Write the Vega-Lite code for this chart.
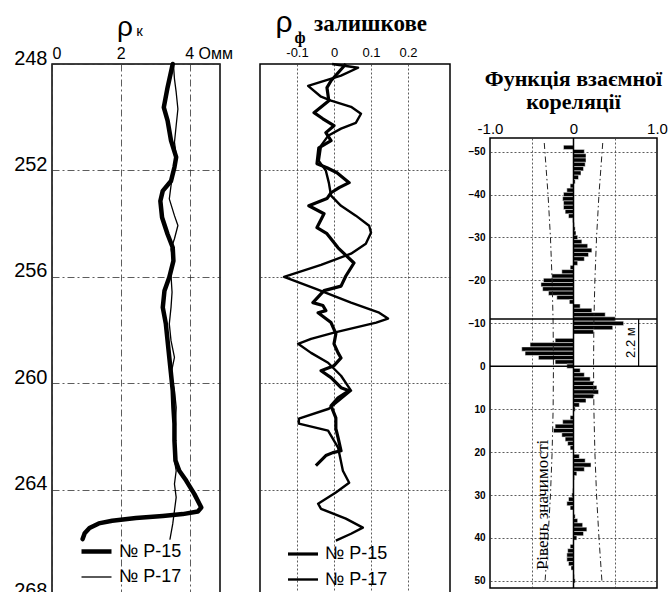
{
"$schema": "https://vega.github.io/schema/vega-lite/v6.json",
"background": "white",
"padding": {"left": 12, "top": 7, "right": 0, "bottom": 0},
"datasets": {
"rk": [
{"well":"№ Р-15","depth":248.0,"rho":3.51},{"well":"№ Р-15","depth":248.88,"rho":3.36},{"well":"№ Р-15","depth":249.63,"rho":3.25},{"well":"№ Р-15","depth":250.13,"rho":3.36},{"well":"№ Р-15","depth":250.88,"rho":3.46},{"well":"№ Р-15","depth":251.5,"rho":3.61},{"well":"№ Р-15","depth":251.88,"rho":3.56},{"well":"№ Р-15","depth":252.4,"rho":3.46},{"well":"№ Р-15","depth":252.77,"rho":3.22},{"well":"№ Р-15","depth":253.15,"rho":3.15},{"well":"№ Р-15","depth":253.77,"rho":3.2},{"well":"№ Р-15","depth":254.4,"rho":3.36},{"well":"№ Р-15","depth":254.9,"rho":3.51},{"well":"№ Р-15","depth":255.4,"rho":3.53},{"well":"№ Р-15","depth":256.02,"rho":3.41},{"well":"№ Р-15","depth":256.52,"rho":3.27},{"well":"№ Р-15","depth":257.15,"rho":3.22},{"well":"№ Р-15","depth":257.77,"rho":3.31},{"well":"№ Р-15","depth":258.4,"rho":3.36},{"well":"№ Р-15","depth":259.03,"rho":3.41},{"well":"№ Р-15","depth":259.65,"rho":3.46},{"well":"№ Р-15","depth":260.28,"rho":3.51},{"well":"№ Р-15","depth":260.91,"rho":3.53},{"well":"№ Р-15","depth":261.53,"rho":3.56},{"well":"№ Р-15","depth":262.16,"rho":3.56},{"well":"№ Р-15","depth":262.91,"rho":3.59},{"well":"№ Р-15","depth":263.29,"rho":3.7},{"well":"№ Р-15","depth":263.66,"rho":3.9},{"well":"№ Р-15","depth":264.17,"rho":4.14},{"well":"№ Р-15","depth":264.67,"rho":4.34},{"well":"№ Р-15","depth":264.82,"rho":4.24},{"well":"№ Р-15","depth":264.92,"rho":3.8},{"well":"№ Р-15","depth":264.99,"rho":3.22},{"well":"№ Р-15","depth":265.07,"rho":2.44},{"well":"№ Р-15","depth":265.17,"rho":1.75},{"well":"№ Р-15","depth":265.27,"rho":1.36},{"well":"№ Р-15","depth":265.44,"rho":1.09},{"well":"№ Р-15","depth":265.64,"rho":0.95},{"well":"№ Р-15","depth":265.86,"rho":0.89},
{"well":"№ Р-17","depth":248.0,"rho":3.53},{"well":"№ Р-17","depth":248.56,"rho":3.56},{"well":"№ Р-17","depth":249.06,"rho":3.61},{"well":"№ Р-17","depth":249.69,"rho":3.66},{"well":"№ Р-17","depth":250.31,"rho":3.61},{"well":"№ Р-17","depth":250.94,"rho":3.56},{"well":"№ Р-17","depth":251.44,"rho":3.61},{"well":"№ Р-17","depth":252.07,"rho":3.53},{"well":"№ Р-17","depth":252.57,"rho":3.46},{"well":"№ Р-17","depth":253.07,"rho":3.41},{"well":"№ Р-17","depth":253.7,"rho":3.56},{"well":"№ Р-17","depth":254.07,"rho":3.66},{"well":"№ Р-17","depth":254.57,"rho":3.56},{"well":"№ Р-17","depth":254.95,"rho":3.46},{"well":"№ Р-17","depth":255.33,"rho":3.51},{"well":"№ Р-17","depth":255.95,"rho":3.46},{"well":"№ Р-17","depth":256.58,"rho":3.49},{"well":"№ Р-17","depth":257.15,"rho":3.46},{"well":"№ Р-17","depth":257.77,"rho":3.41},{"well":"№ Р-17","depth":258.4,"rho":3.46},{"well":"№ Р-17","depth":259.03,"rho":3.56},{"well":"№ Р-17","depth":259.65,"rho":3.46},{"well":"№ Р-17","depth":260.28,"rho":3.56},{"well":"№ Р-17","depth":260.91,"rho":3.61},{"well":"№ Р-17","depth":261.53,"rho":3.59},{"well":"№ Р-17","depth":262.16,"rho":3.56},{"well":"№ Р-17","depth":262.91,"rho":3.56},{"well":"№ Р-17","depth":263.29,"rho":3.61},{"well":"№ Р-17","depth":263.79,"rho":3.56},{"well":"№ Р-17","depth":264.29,"rho":3.61},{"well":"№ Р-17","depth":264.79,"rho":3.56},{"well":"№ Р-17","depth":265.29,"rho":3.51},{"well":"№ Р-17","depth":265.86,"rho":3.43}
],
"phi": [
{"well":"№ Р-15","depth":248.0,"phi":0.032},{"well":"№ Р-15","depth":248.63,"phi":-0.008},{"well":"№ Р-15","depth":248.89,"phi":-0.019},{"well":"№ Р-15","depth":249.38,"phi":-0.014},{"well":"№ Р-15","depth":249.83,"phi":-0.054},{"well":"№ Р-15","depth":250.06,"phi":-0.03},{"well":"№ Р-15","depth":250.32,"phi":0.0},{"well":"№ Р-15","depth":250.58,"phi":-0.022},{"well":"№ Р-15","depth":250.88,"phi":-0.008},{"well":"№ Р-15","depth":251.15,"phi":-0.041},{"well":"№ Р-15","depth":251.75,"phi":-0.046},{"well":"№ Р-15","depth":251.9,"phi":-0.019},{"well":"№ Р-15","depth":252.09,"phi":0.008},{"well":"№ Р-15","depth":252.46,"phi":0.041},{"well":"№ Р-15","depth":252.65,"phi":0.014},{"well":"№ Р-15","depth":252.84,"phi":-0.008},{"well":"№ Р-15","depth":253.06,"phi":-0.019},{"well":"№ Р-15","depth":253.33,"phi":-0.068},{"well":"№ Р-15","depth":253.63,"phi":-0.027},{"well":"№ Р-15","depth":254.15,"phi":-0.046},{"well":"№ Р-15","depth":254.38,"phi":-0.019},{"well":"№ Р-15","depth":254.91,"phi":0.011},{"well":"№ Р-15","depth":255.48,"phi":0.054},{"well":"№ Р-15","depth":255.97,"phi":0.032},{"well":"№ Р-15","depth":256.35,"phi":0.019},{"well":"№ Р-15","depth":256.52,"phi":-0.027},{"well":"№ Р-15","depth":256.97,"phi":-0.057},{"well":"№ Р-15","depth":257.08,"phi":-0.03},{"well":"№ Р-15","depth":257.27,"phi":-0.022},{"well":"№ Р-15","depth":257.35,"phi":-0.043},{"well":"№ Р-15","depth":257.72,"phi":-0.008},{"well":"№ Р-15","depth":258.14,"phi":0.005},{"well":"№ Р-15","depth":258.52,"phi":0.0},{"well":"№ Р-15","depth":258.86,"phi":0.011},{"well":"№ Р-15","depth":259.05,"phi":0.019},{"well":"№ Р-15","depth":259.34,"phi":0.0},{"well":"№ Р-15","depth":259.53,"phi":-0.035},{"well":"№ Р-15","depth":259.79,"phi":-0.008},{"well":"№ Р-15","depth":260.17,"phi":0.019},{"well":"№ Р-15","depth":260.28,"phi":0.041},{"well":"№ Р-15","depth":260.55,"phi":0.011},{"well":"№ Р-15","depth":260.85,"phi":-0.008},{"well":"№ Р-15","depth":261.3,"phi":0.005},{"well":"№ Р-15","depth":261.71,"phi":0.005},{"well":"№ Р-15","depth":262.05,"phi":0.011},{"well":"№ Р-15","depth":262.54,"phi":0.019},{"well":"№ Р-15","depth":262.61,"phi":-0.003},{"well":"№ Р-15","depth":262.72,"phi":-0.022},{"well":"№ Р-15","depth":263.1,"phi":-0.049},
{"well":"№ Р-17","depth":248.0,"phi":-0.005},{"well":"№ Р-17","depth":248.14,"phi":0.065},{"well":"№ Р-17","depth":248.44,"phi":0.019},{"well":"№ Р-17","depth":248.82,"phi":-0.07},{"well":"№ Р-17","depth":249.23,"phi":-0.035},{"well":"№ Р-17","depth":249.38,"phi":-0.008},{"well":"№ Р-17","depth":249.61,"phi":0.046},{"well":"№ Р-17","depth":249.87,"phi":0.073},{"well":"№ Р-17","depth":250.21,"phi":0.059},{"well":"№ Р-17","depth":250.43,"phi":0.019},{"well":"№ Р-17","depth":250.7,"phi":-0.016},{"well":"№ Р-17","depth":251.07,"phi":-0.035},{"well":"№ Р-17","depth":251.64,"phi":-0.041},{"well":"№ Р-17","depth":252.01,"phi":-0.022},{"well":"№ Р-17","depth":252.46,"phi":-0.014},{"well":"№ Р-17","depth":252.95,"phi":-0.008},{"well":"№ Р-17","depth":253.33,"phi":0.019},{"well":"№ Р-17","depth":253.7,"phi":0.059},{"well":"№ Р-17","depth":254.08,"phi":0.095},{"well":"№ Р-17","depth":254.34,"phi":0.1},{"well":"№ Р-17","depth":254.76,"phi":0.086},{"well":"№ Р-17","depth":255.13,"phi":0.046},{"well":"№ Р-17","depth":255.55,"phi":-0.035},{"well":"№ Р-17","depth":256.0,"phi":-0.135},{"well":"№ Р-17","depth":256.45,"phi":-0.049},{"well":"№ Р-17","depth":256.97,"phi":0.046},{"well":"№ Р-17","depth":257.35,"phi":0.122},{"well":"№ Р-17","depth":257.57,"phi":0.146},{"well":"№ Р-17","depth":257.72,"phi":0.114},{"well":"№ Р-17","depth":258.1,"phi":0.0},{"well":"№ Р-17","depth":258.33,"phi":-0.062},{"well":"№ Р-17","depth":258.52,"phi":-0.097},{"well":"№ Р-17","depth":258.86,"phi":-0.062},{"well":"№ Р-17","depth":259.23,"phi":-0.016},{"well":"№ Р-17","depth":259.72,"phi":0.019},{"well":"№ Р-17","depth":260.28,"phi":0.046},{"well":"№ Р-17","depth":260.96,"phi":-0.014},{"well":"№ Р-17","depth":261.33,"phi":-0.095},{"well":"№ Р-17","depth":261.52,"phi":-0.095},{"well":"№ Р-17","depth":261.78,"phi":-0.016},{"well":"№ Р-17","depth":262.42,"phi":0.011},{"well":"№ Р-17","depth":263.29,"phi":0.024},{"well":"№ Р-17","depth":263.74,"phi":0.041},{"well":"№ Р-17","depth":264.11,"phi":0.005},{"well":"№ Р-17","depth":264.53,"phi":-0.043},{"well":"№ Р-17","depth":264.72,"phi":-0.035},{"well":"№ Р-17","depth":265.09,"phi":0.032},{"well":"№ Р-17","depth":265.43,"phi":0.078},{"well":"№ Р-17","depth":265.66,"phi":0.046},{"well":"№ Р-17","depth":265.92,"phi":0.005}
],
"ccf": [
{"lag":-51,"r":-0.12},{"lag":-50,"r":0.13},{"lag":-49,"r":0.15},{"lag":-48,"r":0.15},{"lag":-47,"r":0.14},{"lag":-46,"r":0.12},{"lag":-45,"r":0.09},{"lag":-44,"r":0.06},{"lag":-43,"r":0.02},{"lag":-42,"r":-0.04},{"lag":-41,"r":-0.08},{"lag":-40,"r":-0.12},{"lag":-39,"r":-0.13},{"lag":-38,"r":-0.12},{"lag":-37,"r":-0.12},{"lag":-36,"r":-0.1},{"lag":-35,"r":-0.06},{"lag":-34,"r":-0.01},{"lag":-33,"r":0.01},{"lag":-32,"r":0.02},{"lag":-31,"r":0.03},{"lag":-30,"r":0.05},{"lag":-29,"r":0.1},{"lag":-28,"r":0.17},{"lag":-27,"r":0.22},{"lag":-26,"r":0.18},{"lag":-25,"r":0.13},{"lag":-24,"r":0.05},{"lag":-23,"r":-0.04},{"lag":-22,"r":-0.14},{"lag":-21,"r":-0.26},{"lag":-20,"r":-0.36},{"lag":-19,"r":-0.39},{"lag":-18,"r":-0.37},{"lag":-17,"r":-0.3},{"lag":-16,"r":-0.2},{"lag":-15,"r":-0.05},{"lag":-14,"r":0.08},{"lag":-13,"r":0.22},{"lag":-12,"r":0.38},{"lag":-11,"r":0.5},{"lag":-10,"r":0.6},{"lag":-9,"r":0.47},{"lag":-8,"r":0.24},{"lag":-7,"r":0.0},{"lag":-6,"r":-0.22},{"lag":-5,"r":-0.52},{"lag":-4,"r":-0.62},{"lag":-3,"r":-0.58},{"lag":-2,"r":-0.42},{"lag":-1,"r":-0.22},{"lag":0,"r":-0.08},{"lag":1,"r":0.08},{"lag":2,"r":0.13},{"lag":3,"r":0.2},{"lag":4,"r":0.24},{"lag":5,"r":0.28},{"lag":6,"r":0.3},{"lag":7,"r":0.24},{"lag":8,"r":0.15},{"lag":9,"r":0.07},{"lag":10,"r":0.02},{"lag":11,"r":0.0},{"lag":12,"r":-0.04},{"lag":13,"r":-0.13},{"lag":14,"r":-0.22},{"lag":15,"r":-0.24},{"lag":16,"r":-0.14},{"lag":17,"r":-0.1},{"lag":18,"r":-0.07},{"lag":19,"r":-0.04},{"lag":20,"r":0.0},{"lag":21,"r":0.07},{"lag":22,"r":0.14},{"lag":23,"r":0.21},{"lag":24,"r":0.13},{"lag":25,"r":0.04},{"lag":26,"r":0.01},{"lag":27,"r":0.0},{"lag":28,"r":0.0},{"lag":29,"r":-0.01},{"lag":30,"r":-0.02},{"lag":31,"r":-0.06},{"lag":32,"r":-0.08},{"lag":33,"r":-0.04},{"lag":34,"r":0.0},{"lag":35,"r":0.02},{"lag":36,"r":0.05},{"lag":37,"r":0.11},{"lag":38,"r":0.16},{"lag":39,"r":0.12},{"lag":40,"r":0.04},{"lag":41,"r":0.0},{"lag":42,"r":-0.04},{"lag":43,"r":-0.07},{"lag":44,"r":-0.08},{"lag":45,"r":-0.08},{"lag":46,"r":-0.06},{"lag":47,"r":-0.03},{"lag":48,"r":0.0},{"lag":49,"r":0.01},{"lag":50,"r":0.02}
],
"sig": [
{"side":"L","lag":-52,"r":-0.35},{"side":"L","lag":-40,"r":-0.305},{"side":"L","lag":-30,"r":-0.276},{"side":"L","lag":-20,"r":-0.256},{"side":"L","lag":-10,"r":-0.244},{"side":"L","lag":0,"r":-0.24},{"side":"L","lag":10,"r":-0.244},{"side":"L","lag":20,"r":-0.256},{"side":"L","lag":30,"r":-0.276},{"side":"L","lag":40,"r":-0.305},{"side":"L","lag":50.5,"r":-0.342},
{"side":"R","lag":-52,"r":0.35},{"side":"R","lag":-40,"r":0.305},{"side":"R","lag":-30,"r":0.276},{"side":"R","lag":-20,"r":0.256},{"side":"R","lag":-10,"r":0.244},{"side":"R","lag":0,"r":0.24},{"side":"R","lag":10,"r":0.244},{"side":"R","lag":20,"r":0.256},{"side":"R","lag":30,"r":0.276},{"side":"R","lag":40,"r":0.305},{"side":"R","lag":50.5,"r":0.342}
]
},
"hconcat": [
{
"width": 168, "height": 598,
"layer": [
{"data": {"name": "rk"},
 "mark": {"type": "line", "color": "black", "strokeJoin": "round", "strokeCap": "round"},
 "encoding": {
  "x": {"field": "rho", "type": "quantitative", "scale": {"domain": [0, 4.884], "nice": false, "zero": false},
        "axis": {"orient": "top", "values": [0, 2, 4], "title": null, "labelFontSize": 16, "labelPadding": 3,
                 "labelExpr": "datum.value == 4 ? '4 Омм' : datum.label",
                 "labelOffset": {"condition": {"test": "datum.value == 4", "value": 19}, "value": 0},
                 "grid": true, "gridDash": [7, 3, 2, 3]}},
  "y": {"field": "depth", "type": "quantitative", "scale": {"domain": [248, 270.48], "reverse": true, "nice": false, "zero": false},
        "axis": {"values": [248, 252, 256, 260, 264, 268], "title": null, "labelFontSize": 20, "labelPadding": 5, "labelBaseline": "alphabetic", "grid": true, "gridDash": [7, 3, 2, 3]}},
  "order": {"field": "depth", "type": "quantitative"},
  "strokeWidth": {"field": "well", "type": "nominal", "scale": {"domain": ["№ Р-15", "№ Р-17"], "range": [4.5, 1.3]},
        "legend": {"orient": "none", "legendX": 27, "legendY": 470, "title": null, "symbolType": "stroke", "symbolSize": 900, "symbolStrokeColor": "black", "labelFontSize": 18, "labelOffset": 5, "rowPadding": 0, "padding": 0, "labelColor": "black"}}
 }},
{"data": {"values": [{"t": "ρ"}]}, "mark": {"type": "text", "fontSize": 28, "align": "center", "baseline": "alphabetic", "color": "black"},
 "encoding": {"x": {"datum": 2.12}, "y": {"datum": 246.93}, "text": {"field": "t"}}},
{"data": {"values": [{"t": "к"}]}, "mark": {"type": "text", "fontSize": 15, "align": "left", "baseline": "alphabetic", "color": "black"},
 "encoding": {"x": {"datum": 2.45}, "y": {"datum": 246.95}, "text": {"field": "t"}}}
]
},
{
"width": 190, "height": 598,
"layer": [
{"data": {"name": "phi"},
 "mark": {"type": "line", "color": "black", "strokeJoin": "round"},
 "encoding": {
  "x": {"field": "phi", "type": "quantitative", "scale": {"domain": [-0.2, 0.3135], "nice": false, "zero": false},
        "axis": {"orient": "top", "values": [-0.1, 0, 0.1, 0.2], "title": null, "labelFontSize": 13, "labelPadding": 5, "labelFlush": false,
                 "labelExpr": "datum.value == 0 ? '0' : (datum.value < 0 ? '-' : '') + format(abs(datum.value), '.1f')",
                 "grid": true, "gridDash": [2, 2]}},
  "y": {"field": "depth", "type": "quantitative", "scale": {"domain": [248, 270.48], "reverse": true, "nice": false, "zero": false},
        "axis": {"values": [252, 256, 260, 264], "labels": false, "title": null, "grid": true, "gridDash": [2, 2]}},
  "order": {"field": "depth", "type": "quantitative"},
  "strokeWidth": {"field": "well", "type": "nominal", "scale": {"domain": ["№ Р-15", "№ Р-17"], "range": [3.2, 2.4]},
        "legend": {"orient": "none", "legendX": 26, "legendY": 473, "title": null, "symbolType": "stroke", "symbolSize": 900, "symbolStrokeColor": "black", "labelFontSize": 18, "labelOffset": 5, "rowPadding": 0, "padding": 0, "labelColor": "black"}}
 }},
{"data": {"values": [{"t": "ρ"}]}, "mark": {"type": "text", "fontSize": 30, "align": "center", "baseline": "alphabetic", "color": "black"},
 "encoding": {"x": {"datum": -0.135}, "y": {"datum": 246.79}, "text": {"field": "t"}}},
{"data": {"values": [{"t": "ф"}]}, "mark": {"type": "text", "font": "Liberation Serif", "fontWeight": "bold", "fontSize": 16, "align": "left", "baseline": "alphabetic", "color": "black"},
 "encoding": {"x": {"datum": -0.107}, "y": {"datum": 247.2}, "text": {"field": "t"}}},
{"data": {"values": [{"t": "залишкове"}]}, "mark": {"type": "text", "font": "Liberation Serif", "fontWeight": "bold", "fontSize": 23, "align": "left", "baseline": "alphabetic", "color": "black"},
 "encoding": {"x": {"datum": -0.054}, "y": {"datum": 246.76}, "text": {"field": "t"}}}
]
},
{
"width": 167, "height": 450,
"title": {"text": ["Функція взаємної", "кореляції"], "font": "Liberation Serif", "fontSize": 22, "fontWeight": "bold", "lineHeight": 23, "offset": 7, "color": "black"},
"layer": [
{"data": {"name": "ccf"},
 "mark": {"type": "bar", "orient": "horizontal", "size": 4.3, "color": "black", "stroke": "white", "strokeWidth": 0.5},
 "encoding": {
  "x": {"field": "r", "type": "quantitative", "scale": {"domain": [-1, 1], "nice": false, "zero": false},
        "axis": {"orient": "top", "values": [-1, -0.5, 0, 0.5, 1], "title": null, "labelFontSize": 15, "labelPadding": 2, "labelFlush": false,
                 "labelExpr": "abs(datum.value) == 0.5 ? '' : datum.value == 0 ? '0' : (datum.value < 0 ? '-' : '') + format(abs(datum.value), '.1f')",
                 "grid": true, "gridDash": [2, 2], "gridOpacity": {"condition": {"test": "abs(datum.value) == 0.5", "value": 1}, "value": 0}}},
  "y": {"field": "lag", "type": "quantitative", "scale": {"domain": [-52, 50.5], "reverse": true, "nice": false, "zero": false},
        "axis": {"values": [-50, -45, -40, -35, -30, -25, -20, -15, -10, -5, 0, 5, 10, 15, 20, 25, 30, 35, 40, 45, 50], "title": null, "labelFontSize": 10, "labelFontWeight": "bold", "labelPadding": 5, "grid": true, "gridDash": [2, 2]}}
 }},
{"data": {"name": "sig"},
 "mark": {"type": "line", "color": "#222", "strokeWidth": 1, "strokeDash": [6, 3, 1.5, 3]},
 "encoding": {"x": {"field": "r", "type": "quantitative"}, "y": {"field": "lag", "type": "quantitative"}, "detail": {"field": "side"}, "order": {"field": "lag", "type": "quantitative"}}},
{"data": {"values": [{}]}, "mark": {"type": "rule", "color": "black", "strokeWidth": 1.5}, "encoding": {"x": {"datum": 0}}},
{"data": {"values": [{}]}, "mark": {"type": "rule", "color": "black", "strokeWidth": 1.6}, "encoding": {"y": {"datum": -11}}},
{"data": {"values": [{}]}, "mark": {"type": "rule", "color": "black", "strokeWidth": 1.6}, "encoding": {"y": {"datum": 0}}},
{"data": {"values": [{}]}, "mark": {"type": "rule", "color": "black", "strokeWidth": 1.2}, "encoding": {"x": {"datum": 0.78}, "y": {"datum": -11}, "y2": {"datum": 0}}},
{"data": {"values": [{"t": "2.2 м"}]}, "mark": {"type": "text", "fontSize": 13, "angle": 270, "align": "center", "baseline": "middle", "color": "black"},
 "encoding": {"x": {"datum": 0.69}, "y": {"datum": -5.5}, "text": {"field": "t"}}},
{"data": {"values": [{"t": "Рівень значимості"}]}, "mark": {"type": "text", "font": "Liberation Serif", "fontSize": 17, "angle": 270, "align": "center", "baseline": "middle", "color": "black"},
 "encoding": {"x": {"datum": -0.36}, "y": {"datum": 32.3}, "text": {"field": "t"}}}
]
}
],
"spacing": 40,
"bounds": "flush",
"center": true,
"resolve": {"scale": {"strokeWidth": "independent"}, "legend": {"strokeWidth": "independent"}},
"config": {
 "view": {"stroke": "black", "strokeWidth": 1.5},
 "font": "Liberation Sans",
 "axis": {"labelColor": "black", "ticks": false, "domain": false, "gridColor": "#333", "gridWidth": 0.8}
}
}
